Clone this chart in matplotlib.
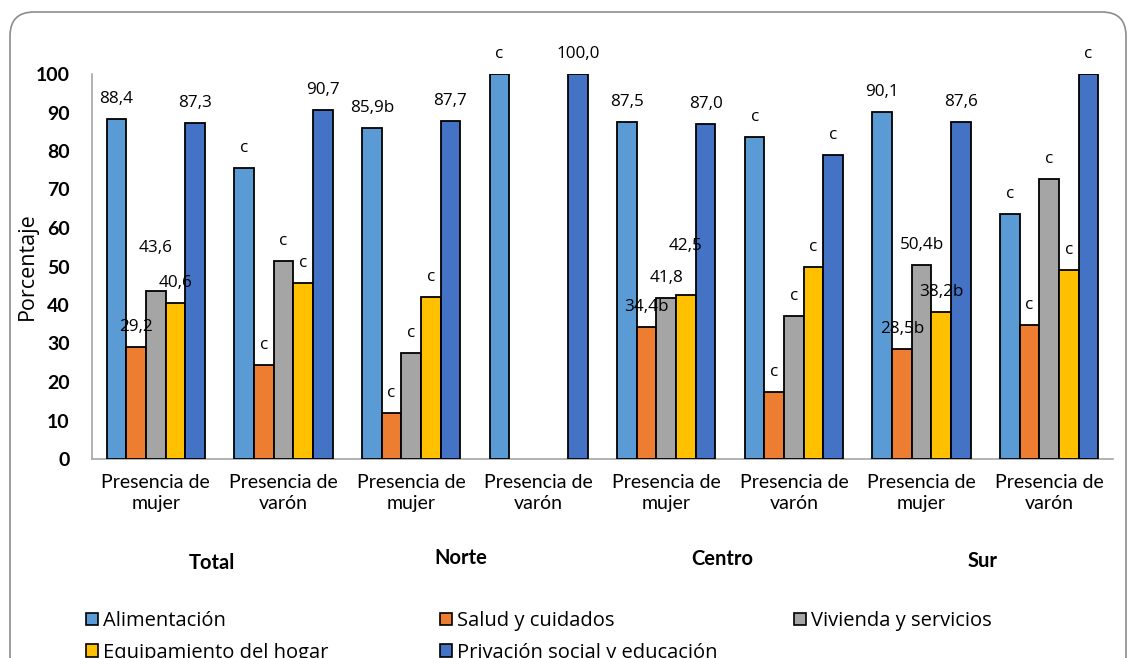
import numpy as np
import matplotlib
matplotlib.use("Agg")
from matplotlib import pyplot as plt
from matplotlib.patches import FancyBboxPatch, Patch
from matplotlib.transforms import IdentityTransform

plt.rcParams['font.family'] = ['Lato', 'DejaVu Sans']
ANCHA = ['Open Sans', 'DejaVu Sans']

grupos = ['Presencia de\nmujer', 'Presencia de\nvarón'] * 4
regiones = ['Total', 'Norte', 'Centro', 'Sur']
series = ['Alimentación', 'Salud y cuidados', 'Vivienda y servicios',
          'Equipamiento del hogar', 'Privación social y educación']
colores = ['#5B9BD5', '#ED7D31', '#A5A5A5', '#FFC000', '#4472C4']

nan = np.nan
alimentacion = [88.4, 75.5, 85.9, 100.0, 87.5, 83.6, 90.1, 63.6]
salud = [29.2, 24.4, 12.0, nan, 34.4, 17.5, 28.5, 34.8]
vivienda = [43.6, 51.3, 27.6, nan, 41.8, 37.1, 50.4, 72.7]
equipamiento = [40.6, 45.8, 42.2, nan, 42.5, 49.9, 38.2, 49.0]
privacion = [87.3, 90.7, 87.7, 100.0, 87.0, 79.0, 87.6, 100.0]

# marca de cada dato: '' valor, 'b' valor con nota b, 'c' dato reservado
marca_alim = ['', 'c', 'b', 'c', '', 'c', '', 'c']
marca_salud = ['', 'c', 'c', None, 'b', 'c', 'b', 'c']
marca_viv = ['', 'c', 'c', None, '', 'c', 'b', 'c']
marca_equip = ['', 'c', 'c', None, '', 'c', 'b', 'c']
marca_priv = ['', '', '', '', '', 'c', '', 'c']

valores = [alimentacion, salud, vivienda, equipamiento, privacion]
marcas = [marca_alim, marca_salud, marca_viv, marca_equip, marca_priv]

fig = plt.figure(figsize=(11.31, 6.58), dpi=100)
ax = fig.add_axes([92 / 1131, 1 - 459 / 658, 1021 / 1131, 385 / 658])

x = np.arange(len(grupos))
ancho = 0.154
for k, (vals, col, nombre) in enumerate(zip(valores, colores, series)):
    pos = x + (k - 2) * ancho
    ax.bar(pos, vals, ancho, color=col, edgecolor='black', linewidth=1.3,
           label=nombre, zorder=3)
    for i, (v, m) in enumerate(zip(vals, marcas[k])):
        if m is None or np.isnan(v):
            continue
        txt = 'c' if m == 'c' else f'{v:.1f}'.replace('.', ',') + m
        dy = 14.4
        if txt == '43,6':
            dy += 17
        if txt == '42,5':
            dy += 21.5
        ax.annotate(txt, (pos[i], v), xytext=(0, dy), textcoords='offset points',
                    ha='center', va='center', fontsize=12.3, family=ANCHA,
                    zorder=4, annotation_clip=False)

ax.set_xlim(-0.5, len(grupos) - 0.5)
ax.set_ylim(0, 100)
ax.set_yticks(np.arange(0, 101, 10))
ax.tick_params(axis='y', length=0, pad=16, labelsize=14)
for t in ax.get_yticklabels():
    t.set_fontweight('bold')
ax.set_xticks(x)
ax.set_xticklabels(grupos, fontsize=14, linespacing=1.25)
ax.tick_params(axis='x', length=0, pad=11)
for s in ['top', 'right']:
    ax.spines[s].set_visible(False)
for s in ['left', 'bottom']:
    ax.spines[s].set_color('#A6A6A6')
    ax.spines[s].set_linewidth(1.2)

# nombres de region bajo cada par de grupos
pos_region = [0.44, 2.39, 4.44, 6.48]
base_region = [-0.286, -0.273, -0.276, -0.281]
for nombre, px, py in zip(regiones, pos_region, base_region):
    ax.text(px, py, nombre, transform=ax.get_xaxis_transform(), ha='center',
            va='baseline', fontsize=14.5, fontweight='bold')

fig.text(27.5 / 1131, 1 - 266 / 658, 'Porcentaje', rotation=90,
         ha='center', va='center', fontsize=15.5, family=ANCHA)

# leyenda en tres columnas de igual ancho
handles = [Patch(facecolor=c, edgecolor='black', linewidth=1.2) for c in colores]
columnas = [[0, 3], [1, 4], [2]]
for j, idx in enumerate(columnas):
    fig.legend([handles[i] for i in idx], [series[i] for i in idx],
               loc='upper left', bbox_to_anchor=((86 + 354 * j) / 1131, 1 - 611 / 658),
               frameon=False, prop={'family': ANCHA, 'size': 14.5},
               handlelength=0.6, handleheight=0.6, handletextpad=0.25,
               labelspacing=0.58, borderpad=0, borderaxespad=0)

marco = FancyBboxPatch((10, -40), 1116, 686,
                       boxstyle='round,pad=0,rounding_size=24',
                       transform=IdentityTransform(), facecolor='none',
                       edgecolor='#8C8C8C', linewidth=1.2)
fig.patches.append(marco)

fig.savefig('out.png', dpi=100)
